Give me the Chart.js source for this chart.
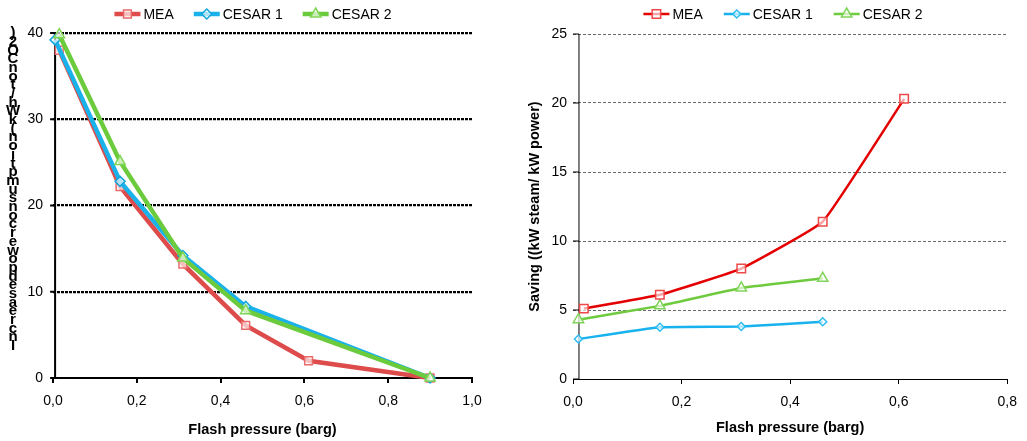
<!DOCTYPE html>
<html><head><meta charset="utf-8">
<script src="https://cdn.jsdelivr.net/npm/chart.js@4/dist/chart.umd.min.js"></script>
<style>
html,body{margin:0;padding:0;background:#fff;}
body{width:1027px;height:441px;overflow:hidden;position:relative;}
#w1{position:absolute;left:0;top:0;width:500px;height:441px;}
#w2{position:absolute;left:500px;top:0;width:527px;height:441px;}
</style></head><body>
<div id="w1"><canvas id="c1"></canvas></div>
<div id="w2"><canvas id="c2"></canvas></div>
<script>
const FONT = '"Liberation Sans", Arial, sans-serif';
const seriesLabels = ['MEA', 'CESAR 1', 'CESAR 2'];
const xTitle = 'Flash pressure (barg)';
const leftYTitle = 'Increased power consumption (kWh/ton CO2)';
const rightYTitle = 'Saving ((kW steam/ kW power)';

// Left chart data
const leftPressureMEA = [0.015, 0.16, 0.31, 0.46, 0.61, 0.90];
const leftPowerMEA = [38.0, 22.2, 13.2, 6.1, 2.0, 0];
const leftPressureCESAR1 = [0.005, 0.16, 0.31, 0.46, 0.90];
const leftPowerCESAR1 = [39.2, 22.8, 14.2, 8.3, 0];
const leftPressureCESAR2 = [0.015, 0.16, 0.31, 0.46, 0.90];
const leftPowerCESAR2 = [39.8, 25.1, 13.9, 7.8, 0];

// Right chart data
const rightPressureMEA = [0.02, 0.16, 0.31, 0.46, 0.61];
const rightSavingMEA = [5.1, 6.1, 8.0, 11.4, 20.3];
const rightPressureCESAR = [0.01, 0.16, 0.31, 0.46];
const rightSavingCESAR1 = [2.9, 3.75, 3.8, 4.15];
const rightSavingCESAR2 = [4.3, 5.3, 6.6, 7.3];

const pts = (xs, ys) => xs.map((x, i) => ({x: x, y: ys[i]}));
const commaFmt = v => Number(v).toFixed(1).replace('.', ',');

function ds(label, data, color, markColor, style, radius, lw, order, tension) {
  return {label, data, borderColor: color, backgroundColor: color, borderWidth: lw,
    pointStyle: style, pointRadius: radius, pointHoverRadius: radius,
    pointBorderColor: markColor, pointBackgroundColor: 'rgba(255,255,255,0.65)',
    pointBorderWidth: 1.5, tension, order, clip: false, showLine: true, fill: false};
}

function drawMarker(ctx, style, r, x, y) {
  ctx.beginPath();
  if (style === 'rect') {
    const s = Math.SQRT1_2 * r; ctx.rect(x - s, y - s, 2 * s, 2 * s);
  } else if (style === 'rectRot') {
    ctx.moveTo(x, y - r); ctx.lineTo(x + r, y); ctx.lineTo(x, y + r); ctx.lineTo(x - r, y); ctx.closePath();
  } else {
    let a = 0;
    for (let i = 0; i < 3; i++) {
      const px = x + Math.sin(a) * r, py = y - Math.cos(a) * r;
      if (i === 0) ctx.moveTo(px, py); else ctx.lineTo(px, py);
      a += 2 * Math.PI / 3;
    }
    ctx.closePath();
  }
  ctx.fill(); ctx.stroke();
}

const legendPlugin = {
  id: 'customLegend',
  afterDraw(chart, args, o) {
    const ctx = chart.ctx;
    ctx.save();
    ctx.font = '14px ' + FONT;
    const items = seriesLabels.map(l => {
      const d = chart.data.datasets.find(dd => dd.label === l);
      return {d, w: ctx.measureText(l).width};
    });
    const iconW = 26, gapT = 3, gapI = o.gap;
    const total = items.reduce((s, it) => s + iconW + gapT + it.w, 0) + gapI * (items.length - 1);
    let x = o.cx - total / 2;
    const y = o.y;
    items.forEach(it => {
      const d = it.d;
      ctx.strokeStyle = d.borderColor; ctx.lineWidth = d.borderWidth;
      ctx.beginPath(); ctx.moveTo(x, y); ctx.lineTo(x + iconW, y); ctx.stroke();
      ctx.fillStyle = d.pointBackgroundColor; ctx.strokeStyle = d.pointBorderColor; ctx.lineWidth = d.pointBorderWidth;
      drawMarker(ctx, d.pointStyle, d.pointRadius, x + iconW / 2, y);
      ctx.fillStyle = '#000'; ctx.textAlign = 'left'; ctx.textBaseline = 'middle';
      ctx.fillText(d.label, x + iconW + gapT, y + 1);
      x += iconW + gapT + it.w + gapI;
    });
    ctx.restore();
  }
};

const axisPlugin = {
  id: 'vAxis',
  beforeDatasetsDraw(chart, args, o) {
    const {ctx, chartArea: a, scales: {x, y}} = chart;
    const px = x.getPixelForValue(o.at);
    ctx.save();
    ctx.strokeStyle = '#000'; ctx.lineWidth = o.width;
    ctx.beginPath();
    ctx.moveTo(px, a.top); ctx.lineTo(px, a.bottom);
    y.ticks.forEach(t => {
      const py = y.getPixelForValue(t.value);
      ctx.moveTo(px - o.tick, py); ctx.lineTo(px, py);
    });
    ctx.stroke();
    ctx.restore();
  }
};

const stackTitlePlugin = {
  id: 'stackTitle',
  afterDraw(chart, args, o) {
    const ctx = chart.ctx;
    const chars = [...o.text].filter(c => c !== ' ');
    ctx.save();
    ctx.font = 'bold 15px ' + FONT;
    ctx.fillStyle = '#000'; ctx.textAlign = 'center'; ctx.textBaseline = 'middle';
    const step = (o.bottom - o.top) / (chars.length - 1);
    chars.forEach((c, i) => ctx.fillText(c, o.x, o.bottom - i * step));
    ctx.restore();
  }
};

Chart.defaults.font.family = FONT;
Chart.defaults.color = '#000';

// LEFT CHART
new Chart(document.getElementById('c1'), {
  type: 'line',
  data: {datasets: [
    ds(seriesLabels[0], pts(leftPressureMEA, leftPowerMEA), '#de4b4b', '#ea6a6a', 'rect', 5.5, 4.5, 2, 0),
    ds(seriesLabels[1], pts(leftPressureCESAR1, leftPowerCESAR1), '#1ab2ea', '#14a6dc', 'rectRot', 5, 4.5, 1, 0),
    ds(seriesLabels[2], pts(leftPressureCESAR2, leftPowerCESAR2), '#6ccb3c', '#7fd654', 'triangle', 6, 4.5, 0, 0)
  ]},
  options: {
    animation: false, responsive: true, maintainAspectRatio: false,
    layout: {padding: {top: 33, right: 28, left: 0, bottom: 0}},
    plugins: {legend: {display: false}, tooltip: {enabled: false},
      customLegend: {cx: 253, y: 14, gap: 20},
      vAxis: {at: 0.005, width: 2, tick: 5},
      stackTitle: {text: leftYTitle, x: 13, top: 33, bottom: 346}},
    scales: {
      x: {type: 'linear', min: 0, max: 1,
        ticks: {stepSize: 0.2, callback: commaFmt, font: {size: 14}, color: '#000', padding: 10, maxRotation: 0},
        grid: {drawOnChartArea: false, drawTicks: true, tickLength: 5, color: '#000', lineWidth: 2},
        border: {color: '#000', width: 2},
        title: {display: true, text: xTitle, font: {size: 14.5, weight: 'bold'}, color: '#000', padding: {top: 0, bottom: 2}},
        afterFit: s => { s.height = 63; }},
      y: {min: 0, max: 40,
        ticks: {stepSize: 10, font: {size: 14}, color: '#000', padding: 10},
        grid: {drawTicks: false, color: ctx => ctx.tick.value === 0 ? 'rgba(0,0,0,0)' : '#000', lineWidth: 2.2},
        border: {display: false, dash: [3, 1]},
        afterFit: s => { s.width = 53; }}
    }
  },
  plugins: [axisPlugin, legendPlugin, stackTitlePlugin]
});

// RIGHT CHART
new Chart(document.getElementById('c2'), {
  type: 'line',
  data: {datasets: [
    ds(seriesLabels[0], pts(rightPressureMEA, rightSavingMEA), '#e40000', '#f04848', 'rect', 6, 2.5, 0, 0.1),
    ds(seriesLabels[1], pts(rightPressureCESAR, rightSavingCESAR1), '#18b2ee', '#2cbcf2', 'rectRot', 4, 2.5, 1, 0.1),
    ds(seriesLabels[2], pts(rightPressureCESAR, rightSavingCESAR2), '#6fcb3e', '#80d45a', 'triangle', 6, 2.5, 2, 0.1)
  ]},
  options: {
    animation: false, responsive: true, maintainAspectRatio: false,
    layout: {padding: {top: 34, right: 14, left: 0, bottom: 0}},
    plugins: {legend: {display: false}, tooltip: {enabled: false},
      customLegend: {cx: 283, y: 14, gap: 21},
      vAxis: {at: 0.011, width: 1, tick: 6}},
    scales: {
      x: {type: 'linear', min: 0, max: 0.8,
        ticks: {stepSize: 0.2, callback: commaFmt, font: {size: 14}, color: '#000', padding: 10, maxRotation: 0},
        grid: {drawOnChartArea: false, drawTicks: true, tickLength: 5, color: '#000', lineWidth: 1},
        border: {color: '#000', width: 1},
        title: {display: true, text: xTitle, font: {size: 14.5, weight: 'bold'}, color: '#000', padding: {top: 0, bottom: 4}},
        afterFit: s => { s.height = 62; }},
      y: {min: 0, max: 25,
        ticks: {stepSize: 5, font: {size: 14}, color: '#000', padding: 6},
        grid: {drawTicks: false, color: ctx => ctx.tick.value === 0 ? 'rgba(0,0,0,0)' : '#6a6a6a', lineWidth: 1},
        border: {display: false, dash: [3, 2]},
        title: {display: true, text: rightYTitle, font: {size: 14.5, weight: 'bold'}, color: '#000', padding: {top: 26, bottom: 0}},
        afterFit: s => { s.width = 73; }}
    }
  },
  plugins: [axisPlugin, legendPlugin]
});
</script>
</body></html>
